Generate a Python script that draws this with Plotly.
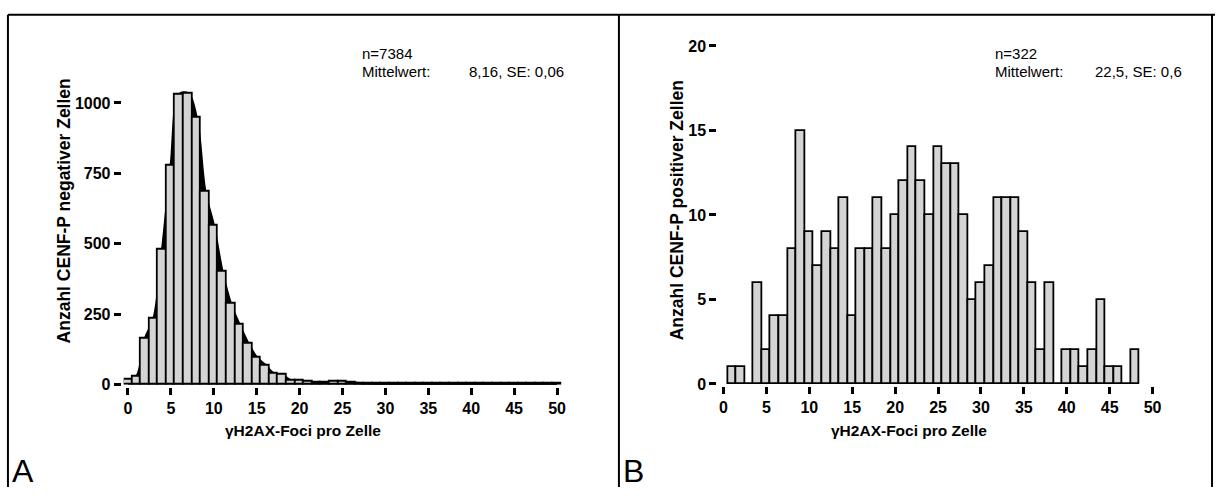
import plotly.graph_objects as go

W, H = 1223, 496

# ---------------- data ----------------
foci_neg = list(range(0, 51))
counts_neg = [17, 29, 164, 235, 481, 779, 1031, 1033, 947, 685,
              564, 401, 286, 212, 147, 97, 69, 40, 34, 14,
              13, 9, 6, 8, 11, 9, 7, 5, 4, 3,
              3, 3, 2, 2, 2, 2, 2, 2, 2, 2,
              2, 2, 2, 2, 2, 2, 2, 2, 2, 2, 2]

foci_pos = list(range(1, 49))
counts_pos = [1, 1, 0, 6, 2, 4, 4, 8, 15, 9,
              7, 9, 8, 11, 4, 8, 8, 11, 8, 10,
              12, 14, 12, 10, 14, 13, 13, 10, 5, 6,
              7, 11, 11, 11, 9, 6, 2, 6, 0, 2,
              2, 1, 2, 5, 1, 1, 0, 2]

x_ticks = [0, 5, 10, 15, 20, 25, 30, 35, 40, 45, 50]
y_ticks_neg = [0, 250, 500, 750, 1000]
y_ticks_pos = [0, 5, 10, 15, 20]

x_title = "γH2AX-Foci pro Zelle"
y_title_neg = "Anzahl CENF-P negativer Zellen"
y_title_pos = "Anzahl CENF-P positiver Zellen"
stats_neg = ["n=7384", "Mittelwert:", "8,16, SE: 0,06"]
stats_pos = ["n=322", "Mittelwert:", "22,5, SE: 0,6"]


def px(x):
    return x / W


def py(y):
    return 1 - y / H


FONT = "Liberation Sans, Arial, sans-serif"
BAR_FILL = "#d4d4d4"

fig = go.Figure()

# panel A: smoothed black area behind bars
fig.add_trace(go.Scatter(
    x=foci_neg, y=counts_neg, mode="lines",
    line=dict(shape="spline", color="black", width=2.5),
    fill="tozeroy", fillcolor="black",
    xaxis="x", yaxis="y", zorder=0, showlegend=False, hoverinfo="skip"))
fig.add_trace(go.Bar(
    x=foci_neg, y=counts_neg, width=1,
    marker=dict(color=BAR_FILL, line=dict(color="black", width=1.8)),
    xaxis="x", yaxis="y", zorder=1, showlegend=False))

# panel B
fig.add_trace(go.Bar(
    x=foci_pos, y=counts_pos, width=1,
    marker=dict(color=BAR_FILL, line=dict(color="black", width=1.8)),
    xaxis="x2", yaxis="y2", showlegend=False))

axis_common = dict(
    showline=True, linecolor="black", linewidth=3,
    ticks="outside", ticklen=7, tickwidth=2.5, tickcolor="black",
    showgrid=False, zeroline=False,
    tickfont=dict(family=FONT, size=16, color="black", weight="bold"),
)

fig.update_layout(
    width=W, height=H,
    margin=dict(l=0, r=0, t=0, b=0),
    paper_bgcolor="white", plot_bgcolor="white",
    bargap=0, barmode="overlay",
    xaxis=dict(domain=[px(124.5), px(565)], range=[-0.5, 50.5],
               tickvals=x_ticks, anchor="y", **axis_common),
    yaxis=dict(domain=[py(390), py(40)], range=[0, 1200],
               tickvals=y_ticks_neg, anchor="x", **axis_common),
    xaxis2=dict(domain=[px(724), px(1161)], range=[-0.5, 50.1],
                tickvals=x_ticks, anchor="y2", **axis_common),
    yaxis2=dict(domain=[py(389.3), py(39.3)], range=[0, 20],
                tickvals=y_ticks_pos, anchor="x2", **axis_common),
)

# frame lines
frame = dict(type="line", xref="paper", yref="paper",
             line=dict(color="black", width=2))
fig.add_shape(x0=px(8), x1=1, y0=py(7), y1=py(7), **frame)
fig.add_shape(x0=px(8), x1=px(8), y0=py(7), y1=0, **frame)
fig.add_shape(x0=px(623), x1=px(623), y0=py(7), y1=0, **frame)
fig.add_shape(x0=px(1220), x1=px(1220), y0=py(7), y1=0, **frame)

ann_bold = dict(family=FONT, size=15.5, color="black", weight="bold")
ann_reg = dict(family=FONT, size=15, color="black")

# axis titles
fig.add_annotation(text=x_title, x=px(305), y=py(437), xref="paper", yref="paper",
                   showarrow=False, font=ann_bold, xanchor="center", yanchor="middle")
fig.add_annotation(text=x_title, x=px(915), y=py(437), xref="paper", yref="paper",
                   showarrow=False, font=ann_bold, xanchor="center", yanchor="middle")
fig.add_annotation(text=y_title_neg, x=px(64), y=py(210), xref="paper", yref="paper",
                   showarrow=False, font=dict(ann_bold, size=17.5), textangle=-90,
                   xanchor="center", yanchor="middle")
fig.add_annotation(text=y_title_pos, x=px(681), y=py(210), xref="paper", yref="paper",
                   showarrow=False, font=dict(ann_bold, size=17.5), textangle=-90,
                   xanchor="center", yanchor="middle")

# stats text
for (x_lab, x_val, stats) in [(362, 470, stats_neg), (1000, 1100, stats_pos)]:
    fig.add_annotation(text=stats[0], x=px(x_lab), y=py(47), xref="paper", yref="paper",
                       showarrow=False, font=ann_reg, xanchor="left", yanchor="middle")
    fig.add_annotation(text=stats[1], x=px(x_lab), y=py(66), xref="paper", yref="paper",
                       showarrow=False, font=ann_reg, xanchor="left", yanchor="middle")
    fig.add_annotation(text=stats[2], x=px(x_val), y=py(66), xref="paper", yref="paper",
                       showarrow=False, font=ann_reg, xanchor="left", yanchor="middle")

# panel letters
for letter, xl in [("A", 10), ("B", 625)]:
    fig.add_annotation(text=letter, x=px(xl), y=py(500), xref="paper", yref="paper",
                       showarrow=False, font=dict(family=FONT, size=32, color="black"),
                       xanchor="left", yanchor="bottom")

fig.write_html("out.html")
